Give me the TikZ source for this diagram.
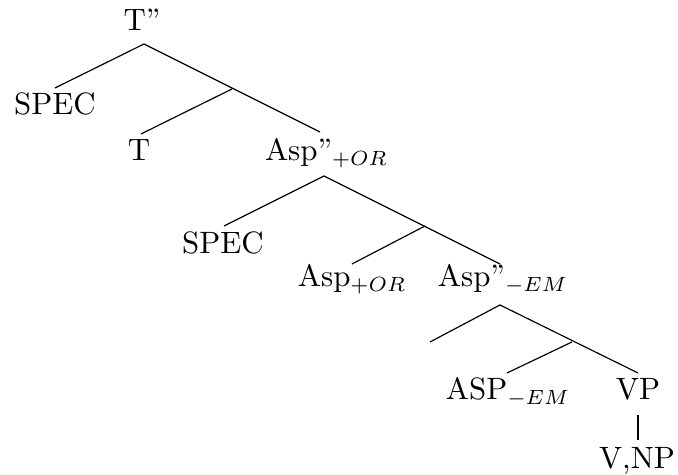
\documentclass[tikz,border=0pt]{standalone}
\begin{document}
\begin{tikzpicture}[x=0.34pt,y=-0.34pt,
  lbl/.style={inner sep=0pt,outer sep=0pt,anchor=base,font=\fontsize{10.5}{12.6}\selectfont},
  lblw/.style={lbl,anchor=base west},
  branch/.style={line width=0.4pt,black}]
\useasboundingbox (0,0) rectangle (678,475);
% labels
\node[lbl]  (Tbar)   at (142,31)  {T''};
\node[lbl]  (spec1)  at (55,115)  {SPEC};
\node[lbl]  (T)      at (139,161) {T};
\node[lblw] (AspOR2) at (265,161) {Asp''$_{+OR}$};
\node[lbl]  (spec2)  at (223,254) {SPEC};
\node[lblw] (AspOR)  at (298,287) {Asp$_{+OR}$};
\node[lblw] (AspEM2) at (438,287) {Asp''$_{-EM}$};
\node[lblw] (ASPEM)  at (446,400) {ASP$_{-EM}$};
\node[lbl]  (VP)     at (638,400) {VP};
\node[lbl]  (VNP)    at (637,469) {V,NP};
% tree points
\coordinate (a1) at (144,44);
\coordinate (s1) at (55,88);
\coordinate (j1) at (232,89);
\coordinate (t1) at (141,134);
\coordinate (r1) at (320,132);
\coordinate (a2) at (324,176);
\coordinate (s2) at (224,226);
\coordinate (j2) at (425,226);
\coordinate (t2) at (352,264);
\coordinate (r2) at (500,264);
\coordinate (a3) at (500,305);
\coordinate (s3) at (430,342);
\coordinate (j3) at (572,342);
\coordinate (t3) at (507,373);
\coordinate (r3) at (638,373);
\coordinate (v1) at (638,415);
\coordinate (v2) at (638,440);
% branches
\draw[branch] (s1) -- (a1) -- (r1);
\draw[branch] (j1) -- (t1);
\draw[branch] (s2) -- (a2) -- (r2);
\draw[branch] (j2) -- (t2);
\draw[branch] (s3) -- (a3) -- (r3);
\draw[branch] (j3) -- (t3);
\draw[branch] (v1) -- (v2);
\end{tikzpicture}
\end{document}
